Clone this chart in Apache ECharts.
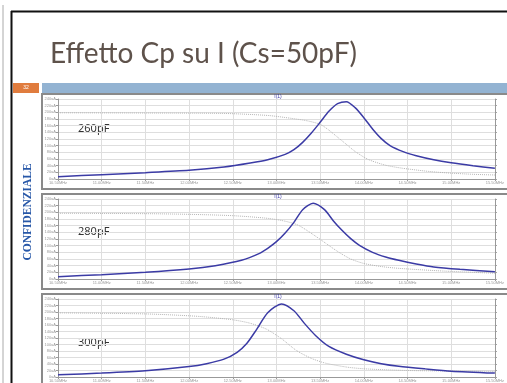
<!DOCTYPE html>
<html>
<head>
<meta charset="utf-8">
<script src="https://cdn.jsdelivr.net/npm/echarts@6/dist/echarts.min.js"></script>
<style>
  html, body { margin: 0; padding: 0; background: #fff; }
  #chart { width: 507px; height: 383px; }
</style>
</head>
<body>
<div id="chart"></div>
<script>
// frequency ticks (MHz) and current ticks (uA)
const freqTicks = [10.5, 11.0, 11.5, 12.0, 12.5, 13.0, 13.5, 14.0, 14.5, 15.0, 15.5]
const currentTicks = [0, 240, 20]
const phaseTicks = [-90, 90, 15]
const panelLabels = ['260pF', '280pF', '300pF']

// Cp = 260pF
const freq260 = [10.5, 11.0, 11.5, 12.0, 12.4, 12.7, 12.9, 13.1, 13.2, 13.3, 13.4, 13.5, 13.6, 13.7, 13.8, 13.9, 14.0, 14.1, 14.2, 14.3, 14.45, 14.6, 14.8, 15.0, 15.25, 15.5]
const cur260 = [7, 13, 19, 26, 36, 48, 58, 74, 88, 110, 138, 170, 203, 226, 232, 214, 184, 150, 121, 100, 82, 70, 58, 49, 40, 32]
const phFreq260 = [10.5, 11.5, 12.4, 12.9, 13.15, 13.35, 13.5, 13.6, 13.7, 13.8, 13.9, 14.05, 14.25, 14.45, 14.8, 15.2, 15.5]
const phase260 = [59, 58.5, 57.5, 53, 47, 41, 33, 20, 4, -12, -28, -46, -59, -66, -74, -79, -81]

// Cp = 280pF
const freq280 = [10.5, 11.0, 11.5, 12.0, 12.3, 12.6, 12.8, 12.9, 13.0, 13.1, 13.2, 13.3, 13.42, 13.55, 13.65, 13.75, 13.85, 13.95, 14.1, 14.25, 14.4, 14.6, 14.8, 15.1, 15.5]
const cur280 = [7, 13, 20, 30, 40, 56, 76, 92, 112, 138, 170, 208, 227, 208, 175, 146, 121, 101, 80, 66, 56, 45, 36, 29, 22]
const phFreq280 = [10.5, 11.5, 12.0, 12.5, 12.9, 13.1, 13.25, 13.42, 13.56, 13.7, 13.85, 14.0, 14.2, 14.4, 14.9, 15.5]
const phase280 = [58, 57, 55.5, 52.5, 46.5, 40, 31, 10, -9, -28, -45, -55, -62, -66, -72, -77]

// Cp = 300pF
const freq300 = [10.5, 11.0, 11.5, 12.0, 12.2, 12.4, 12.55, 12.66, 12.77, 12.9, 13.06, 13.2, 13.32, 13.45, 13.6, 13.8, 14.0, 14.2, 14.4, 14.7, 15.0, 15.5]
const cur300 = [7, 12, 19, 32, 41, 55, 76, 103, 145, 198, 225, 204, 165, 127, 94, 70, 53, 41, 33, 25, 18, 12]
const phFreq300 = [10.5, 11.5, 12.1, 12.5, 12.7, 12.89, 13.06, 13.23, 13.4, 13.56, 13.8, 14.0, 14.5, 15.5]
const phase300 = [58, 55.6, 50, 42, 34, 20, -2, -29, -47, -58, -67, -71, -75, -77]

const pairs = (xs, ys) => xs.map((x, i) => [x, ys[i]])

const chart = echarts.init(document.getElementById('chart'))

const tops = [99, 199, 299]
const grids = tops.map(t => ({ left: 58, right: 5, top: t, height: 80 }))

const xAxes = tops.map((t, i) => ({
  type: 'value',
  gridIndex: i,
  min: freqTicks[0],
  max: freqTicks[freqTicks.length - 1],
  interval: 0.5,
  axisLine: { lineStyle: { color: '#999', width: 1 } },
  axisTick: { length: 2, lineStyle: { color: '#999' } },
  axisLabel: { fontSize: 4, color: '#999', margin: 2, formatter: v => v.toFixed(2) + 'MHz' },
  splitLine: { show: true, lineStyle: { color: '#dedede', width: 1 } }
}))

const yAxes = []
tops.forEach((t, i) => {
  yAxes.push({
    type: 'value',
    gridIndex: i,
    position: 'left',
    min: currentTicks[0],
    max: currentTicks[1],
    interval: currentTicks[2],
    axisLine: { show: true, lineStyle: { color: '#999' } },
    axisTick: { show: true, length: 2, lineStyle: { color: '#999' } },
    axisLabel: { fontSize: 4, color: '#999', margin: 2, formatter: v => v + 'uA' },
    splitLine: { show: true, lineStyle: { color: '#dedede', width: 1 } }
  })
  yAxes.push({
    type: 'value',
    gridIndex: i,
    position: 'right',
    min: phaseTicks[0],
    max: phaseTicks[1],
    interval: phaseTicks[2],
    axisLine: { show: true, lineStyle: { color: '#999' } },
    axisTick: { show: true, length: 2, lineStyle: { color: '#999' } },
    axisLabel: { show: false },
    splitLine: { show: false }
  })
})

const blue = (i, data) => ({
  type: 'line', xAxisIndex: i, yAxisIndex: i * 2, data: data,
  symbol: 'none', smooth: 0.25,
  lineStyle: { color: '#3b3ba5', width: 1.5 }
})
const gray = (i, data) => ({
  type: 'line', xAxisIndex: i, yAxisIndex: i * 2 + 1, data: data,
  symbol: 'none', smooth: 0.25,
  lineStyle: { color: '#b4b4b4', width: 1, type: 'dotted' }
})

const graphic = [
  // slide frame
  { type: 'line', shape: { x1: 3, y1: 5, x2: 3, y2: 383 }, style: { stroke: '#aaa', lineWidth: 1 } },
  { type: 'line', shape: { x1: 11.5, y1: 11, x2: 11.5, y2: 383 }, style: { stroke: '#111', lineWidth: 2 } },
  { type: 'line', shape: { x1: 11, y1: 11.5, x2: 507, y2: 11.5 }, style: { stroke: '#111', lineWidth: 2 } },
  {
    type: 'text', x: 50, y: 54,
    style: { text: 'Effetto Cp su I (Cs=50pF)', fill: '#5e524b', font: '28px Lato', align: 'left', verticalAlign: 'middle' }
  },
  { type: 'rect', shape: { x: 13, y: 83, width: 26, height: 10 }, style: { fill: '#e07c3e' } },
  { type: 'text', x: 26, y: 88, style: { text: '32', fill: '#fff', font: '5px sans-serif', align: 'center', verticalAlign: 'middle' } },
  { type: 'rect', shape: { x: 42, y: 83, width: 470, height: 10 }, style: { fill: '#93b3d2' } },
  {
    type: 'text', x: 28, y: 212, rotation: Math.PI / 2,
    style: { text: 'CONFIDENZIALE', fill: '#2858a8', font: 'bold 11.5px "Liberation Serif"', align: 'center', verticalAlign: 'middle' }
  }
]
tops.forEach((t, i) => {
  graphic.push({ type: 'rect', shape: { x: 42, y: t - 5, width: 480, height: 95 }, style: { fill: 'none', stroke: '#8a8a8a', lineWidth: 2 } })
  graphic.push({ type: 'text', x: 278, y: t - 2.5, style: { text: 'I(1)', fill: '#3b3ba5', font: '5px sans-serif', align: 'center', verticalAlign: 'middle' } })
})
const labelY = [129, 232, 343]
panelLabels.forEach((s, i) => {
  graphic.push({ type: 'text', x: 78, y: labelY[i], style: { text: s, fill: '#333', font: '11px "Noto Sans"', align: 'left', verticalAlign: 'middle' } })
})

chart.setOption({
  animation: false,
  grid: grids,
  xAxis: xAxes,
  yAxis: yAxes,
  graphic: graphic,
  series: [
    gray(0, pairs(phFreq260, phase260)),
    blue(0, pairs(freq260, cur260)),
    gray(1, pairs(phFreq280, phase280)),
    blue(1, pairs(freq280, cur280)),
    gray(2, pairs(phFreq300, phase300)),
    blue(2, pairs(freq300, cur300))
  ]
})
</script>
</body>
</html>
